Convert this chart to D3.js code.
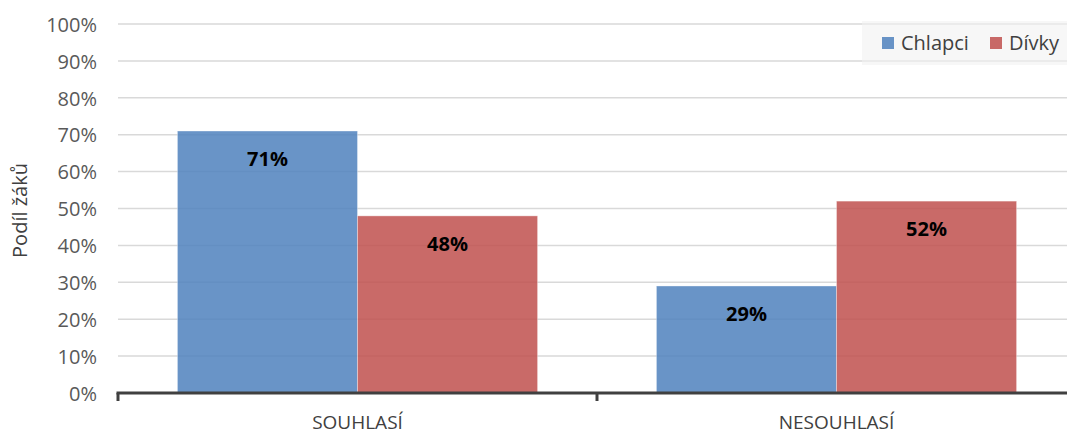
<!DOCTYPE html>
<html>
<head>
<meta charset="utf-8">
<script src="https://cdn.jsdelivr.net/npm/d3@7"></script>
<style>
  html, body { margin: 0; padding: 0; background: #fff; }
  svg text { font-family: "Open Sans", "Liberation Sans", sans-serif; }
</style>
</head>
<body>
<svg id="chart" width="1067" height="434"></svg>
<script>
// Share of pupils who agree / disagree, by gender
const categories = ["SOUHLASÍ", "NESOUHLASÍ"];
const seriesNames = ["Chlapci", "Dívky"];
const chlapci = [0.71, 0.29];
const divky = [0.48, 0.52];
const yTicks = [0, 0.1, 0.2, 0.3, 0.4, 0.5, 0.6, 0.7, 0.8, 0.9, 1.0];

const colors = { "Chlapci": "#4f81bd", "Dívky": "#c0504d" };
const values = { "Chlapci": chlapci, "Dívky": divky };

const svg = d3.select("#chart");
const margin = { left: 118, right: -9, top: 24, bottom: 41 };
const W = 1067, H = 434;
const plotL = margin.left, plotR = W - margin.right;
const plotT = margin.top, plotB = H - margin.bottom;

const x0 = d3.scaleBand().domain(categories).range([plotL, plotR]).paddingInner(0).paddingOuter(0);
const x1 = d3.scaleBand().domain(seriesNames).range([0, x0.bandwidth()]).paddingInner(0).paddingOuter(0.33);
const y = d3.scaleLinear().domain([0, 1]).range([plotB, plotT]);

// Horizontal gridlines
svg.append("g")
  .selectAll("line")
  .data(yTicks.filter(d => d > 0))
  .join("line")
  .attr("x1", plotL).attr("x2", plotR)
  .attr("y1", d => y(d)).attr("y2", d => y(d))
  .attr("stroke", "#d9d9d9").attr("stroke-width", 1.5);

// Y tick labels
const yAxis = d3.axisLeft(y).tickValues(yTicks).tickFormat(d3.format(".0%")).tickSize(0).tickPadding(21);
const gy = svg.append("g").attr("transform", `translate(${plotL},0)`).call(yAxis);
gy.select(".domain").remove();
gy.selectAll("text")
  .attr("fill", "#595959")
  .style("font-size", "20px")
  .attr("dy", "0.36em");

// Bars
const groups = svg.append("g")
  .selectAll("g")
  .data(categories)
  .join("g")
  .attr("transform", d => `translate(${x0(d)},0)`);

groups.selectAll("rect")
  .data((c, i) => seriesNames.map(s => ({ s, v: values[s][i] })))
  .join("rect")
  .attr("x", d => x1(d.s))
  .attr("width", x1.bandwidth())
  .attr("y", d => y(d.v))
  .attr("height", d => y(0) - y(d.v))
  .attr("fill", d => colors[d.s])
  .attr("fill-opacity", 0.85)
  .attr("stroke", "#ffffff")
  .attr("stroke-opacity", 0.35)
  .attr("stroke-width", 1);

// Value labels
groups.selectAll("text.val")
  .data((c, i) => seriesNames.map(s => ({ s, v: values[s][i] })))
  .join("text")
  .attr("class", "val")
  .attr("x", d => x1(d.s) + x1.bandwidth() / 2)
  .attr("y", d => y(d.v) + 35)
  .attr("text-anchor", "middle")
  .attr("font-weight", "bold")
  .style("font-size", "20px")
  .attr("fill", "#000")
  .text(d => d3.format(".0%")(d.v));

// X axis line with category separators
const xAxis = d3.axisBottom(x0).tickSize(0).tickPadding(23);
const gx = svg.append("g").attr("transform", `translate(0,${plotB})`).call(xAxis);
gx.select(".domain").remove();
gx.selectAll("text")
  .attr("fill", "#404040")
  .style("font-size", "19px")
  .attr("dy", "0.71em");

svg.append("line")
  .attr("x1", plotL - 1.5).attr("x2", plotR)
  .attr("y1", plotB).attr("y2", plotB)
  .attr("stroke", "#404040").attr("stroke-width", 3);

const boundaries = [plotL, x0(categories[1])];
svg.append("g").selectAll("line")
  .data(boundaries)
  .join("line")
  .attr("x1", d => d).attr("x2", d => d)
  .attr("y1", plotB).attr("y2", plotB + 8)
  .attr("stroke", "#404040").attr("stroke-width", 3);

// Y axis title
svg.append("text")
  .attr("transform", `translate(27,${(plotT + plotB) / 2 + 2}) rotate(-90)`)
  .attr("text-anchor", "middle")
  .attr("fill", "#404040")
  .style("font-size", "20px")
  .text("Podíl žáků");

// Legend
const legend = svg.append("g");
legend.append("rect")
  .attr("x", 862).attr("y", 21).attr("width", 210).attr("height", 44)
  .attr("fill", "#f2f2f2").attr("fill-opacity", 0.6);
const legendX = [882, 990];
seriesNames.forEach((s, i) => {
  legend.append("rect")
    .attr("x", legendX[i]).attr("y", 37)
    .attr("width", 12).attr("height", 12)
    .attr("fill", colors[s]).attr("fill-opacity", 0.85);
  legend.append("text")
    .attr("x", legendX[i] + 19).attr("y", 43)
    .attr("dy", "0.35em")
    .attr("fill", "#404040")
    .style("font-size", "20px")
    .text(s);
});
</script>
</body>
</html>
